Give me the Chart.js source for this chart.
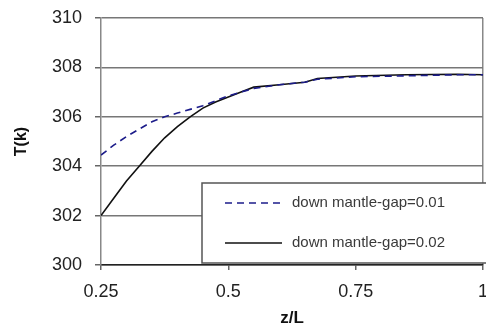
<!DOCTYPE html>
<html>
<head>
<meta charset="utf-8">
<script src="https://cdn.jsdelivr.net/npm/chart.js@4/dist/chart.umd.min.js"></script>
<style>
html,body{margin:0;padding:0;background:#fff;}
#wrap{width:486px;height:325px;position:relative;}
</style>
</head>
<body>
<div id="wrap"><canvas id="c" width="486" height="325"></canvas></div>
<script>
// z/L positions
const zValues = [0.25, 0.275, 0.30, 0.325, 0.35, 0.375, 0.40, 0.425, 0.45, 0.475, 0.50, 0.525, 0.55, 0.60, 0.65, 0.675, 0.75, 0.85, 0.95, 1.0];
// down mantle-gap=0.01 (dashed)
const gap001 = [304.45, 304.85, 305.2, 305.5, 305.8, 306.0, 306.15, 306.3, 306.45, 306.65, 306.85, 307.0, 307.15, 307.3, 307.4, 307.52, 307.62, 307.66, 307.7, 307.7];
// down mantle-gap=0.02 (solid)
const gap002 = [302.0, 302.7, 303.4, 304.0, 304.6, 305.15, 305.6, 306.0, 306.35, 306.6, 306.8, 307.0, 307.2, 307.3, 307.4, 307.55, 307.65, 307.7, 307.72, 307.7];
const seriesLabels = ['down mantle-gap=0.01', 'down mantle-gap=0.02'];
const xTicks = [0.25, 0.5, 0.75, 1];
const yTicks = [300, 302, 304, 306, 308, 310];

const toPts = (xs, ys) => xs.map((x, i) => ({x: x, y: ys[i]}));

const legendBox = {
  id: 'legendBox',
  afterDraw(chart) {
    const ctx = chart.ctx, ca = chart.chartArea;
    const l = ca.left + 101, t = ca.top + 165, r = ca.right + 6, b = ca.bottom - 2;
    ctx.save();
    ctx.fillStyle = '#fff';
    ctx.fillRect(l, t, r - l, b - t);
    ctx.strokeStyle = '#555';
    ctx.lineWidth = 1.5;
    ctx.strokeRect(l, t, r - l, b - t);
    const ds = chart.data.datasets;
    const rows = [t + 20, t + 60];
    ds.forEach((d, i) => {
      ctx.beginPath();
      ctx.strokeStyle = d.borderColor;
      ctx.lineWidth = d.borderWidth;
      ctx.setLineDash(d.borderDash || []);
      ctx.moveTo(l + 23, rows[i]);
      ctx.lineTo(l + 80, rows[i]);
      ctx.stroke();
      ctx.setLineDash([]);
      ctx.fillStyle = '#3a3a3a';
      ctx.font = '15px "Liberation Sans", Arial, sans-serif';
      ctx.textBaseline = 'middle';
      ctx.textAlign = 'left';
      ctx.fillText(d.label, l + 90, rows[i]);
    });
    ctx.restore();
  }
};

new Chart(document.getElementById('c'), {
  type: 'line',
  data: {
    datasets: [
      {label: seriesLabels[0], data: toPts(zValues, gap001), borderColor: '#1c1c8a', borderWidth: 1.6, borderDash: [7, 5], pointRadius: 0, fill: false, tension: 0},
      {label: seriesLabels[1], data: toPts(zValues, gap002), borderColor: '#111', borderWidth: 1.6, pointRadius: 0, fill: false, tension: 0}
    ]
  },
  options: {
    responsive: false,
    animation: false,
    events: [],
    layout: {padding: {top: 18, right: 3, left: 0, bottom: 0}},
    plugins: {legend: {display: false}, tooltip: {enabled: false}},
    scales: {
      x: {
        type: 'linear', min: 0.25, max: 1,
        afterBuildTicks: s => { s.ticks = xTicks.map(v => ({value: v})); },
        afterFit: s => { s.height = 60; s.paddingLeft = 0; s.paddingRight = 0; },
        ticks: {color: '#222', padding: 11, maxRotation: 0, font: {family: '"Liberation Sans", Arial, sans-serif', size: 18}, callback: v => String(v)},
        grid: {drawOnChartArea: true, color: c => (c.tick && c.tick.value === 1) ? '#888' : 'rgba(0,0,0,0)', tickColor: '#666', tickLength: 5, lineWidth: 1.5},
        border: {display: true, color: '#222', width: 1.5},
        title: {display: true, text: 'z/L', color: '#111', font: {family: '"Liberation Sans", Arial, sans-serif', size: 17, weight: 'bold', lineHeight: 0.8}, padding: {top: 0, bottom: 0}}
      },
      y: {
        min: 300, max: 310,
        afterBuildTicks: s => { s.ticks = yTicks.map(v => ({value: v})); },
        afterFit: s => { s.width = 101; s.paddingTop = 0; s.paddingBottom = 0; },
        ticks: {color: '#222', padding: 13, font: {family: '"Liberation Sans", Arial, sans-serif', size: 18}},
        grid: {color: '#777', tickColor: '#666', tickLength: 6, lineWidth: 1.5},
        border: {display: true, color: '#888', width: 1.5},
        title: {display: true, text: 'T(k)', color: '#111', font: {family: '"Liberation Sans", Arial, sans-serif', size: 16, weight: 'bold'}, padding: {top: 12, bottom: 0}}
      }
    }
  },
  plugins: [legendBox]
});
</script>
</body>
</html>
